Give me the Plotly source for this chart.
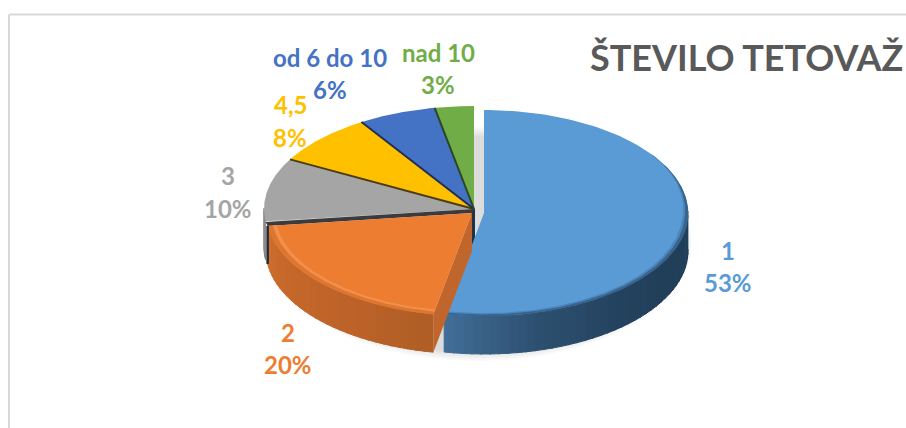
import numpy as np
import plotly.graph_objects as go

TITLE = "ŠTEVILO TETOVAŽ"
categories = ["1", "2", "3", "4,5", "od 6 do 10", "nad 10"]
values = [53, 20, 10, 8, 6, 3]

# Styling and layout (separate from data)
top_colors = ["#5B9BD5", "#ED7D31", "#A5A5A5", "#FFC000", "#4472C4", "#70AD47"]
text_colors = ["#5B9BD5", "#ED7D31", "#A5A5A5", "#FFC000", "#4472C4", "#70AD47"]
centers = [(484, 213), (472, 213), (474, 209), (474, 209), (474, 209), (474, 209)]
label_xy = [(728, 250, 282), (288, 332, 364), (228, 175, 208),
            (290, 104, 137), (330, 57, 89), (438, 52, 84)]
RX, RY, DEPTH = 204, 103, 38
ORANGE_RX = 206
BACK_RX, BACK_RY = 210, 103
W, H = 906, 428

fig = go.Figure()


def poly(xs, ys, color, lw=0.0):
    fig.add_trace(go.Scatter(x=xs, y=ys, mode="lines", fill="toself", fillcolor=color,
                             line=dict(width=lw, color=color), hoverinfo="skip", showlegend=False))


def edge(xs, ys, color, width):
    fig.add_trace(go.Scatter(x=xs, y=ys, mode="lines", line=dict(width=width, color=color),
                             hoverinfo="skip", showlegend=False))


def pt(c, t, rx, ry, r=1.0, dz=0.0):
    return c[0] + r * rx * np.sin(t), c[1] - r * ry * np.cos(t) + dz


def hex2rgb(h):
    return np.array([int(h[i:i + 2], 16) for i in (1, 3, 5)], float)


def mix(a, b, f):
    v = hex2rgb(a) * (1 - f) + hex2rgb(b) * f
    return "rgb(%d,%d,%d)" % tuple(v)


def top(c, a0, a1, rx, ry, color):
    t = np.linspace(a0, a1, 120)
    xs, ys = pt(c, t, rx, ry)
    poly([c[0], *xs, c[0]], [c[1], *ys, c[1]], color)


def wall(c, a0, a1, rx, ry, stops, n=40):
    lo, hi = max(a0, np.pi / 2 - 0.02), min(a1, 3 * np.pi / 2)
    if hi <= lo:
        return
    ed = np.linspace(lo, hi, n + 1)
    for i in range(n):
        t = np.linspace(ed[i], ed[i + 1] + 0.008, 5)
        x, y = pt(c, t, rx, ry)
        f = i / max(n - 1, 1) * (len(stops) - 1)
        j = min(int(f), len(stops) - 2)
        poly([*x, *x[::-1]], [*y, *(y[::-1] + DEPTH)], mix(stops[j], stops[j + 1], f - j), lw=1)


def rim(c, a0, a1, rx, ry, bands, taper=0.0):
    t = np.linspace(a0, a1, 160)
    k = np.clip((t - a0) / taper, 0, 1) if taper else np.ones_like(t)
    for r0, r1, col in bands:
        x0, y0 = pt(c, t, rx, ry, 1 - (1 - r0) * k)
        x1, y1 = pt(c, t, rx, ry, 1 - (1 - r1) * k)
        poly([*x0, *x1[::-1]], [*y0, *y1[::-1]], col)


# Cumulative angles, clockwise from 12 o'clock
fractions = np.array(values, float) / sum(values)
edges = np.concatenate([[0], np.cumsum(fractions)]) * 2 * np.pi
span = lambda i: (edges[i], edges[i + 1])

# Soft shadow
for k in range(7):
    tt = np.linspace(0, 2 * np.pi, 120)
    poly(478 + (214 - k * 1.5) * np.sin(tt), 244 - (117 - k * 1.5) * np.cos(tt), "rgba(60,60,60,0.028)")

# Back group: walls first, then tops and dark separators
a0, a1 = span(2)
wall(centers[2], a0, a1, BACK_RX, BACK_RY, ["#7b7b7b", "#8e8e8e"], n=6)
c = centers[5]
poly([c[0] - 3, c[0] + 1, c[0] + 1, c[0] - 3], [c[1], c[1], c[1] + 40, c[1] + 44], "#1f3346")
for i in range(2, 6):
    a0, a1 = span(i)
    top(centers[i], a0, a1, BACK_RX, BACK_RY, top_colors[i])
for i, col in zip([3, 4, 5], ["#4a3d12", "#1e2f55", "#2c4522"]):
    x, y = pt(centers[i], edges[i], BACK_RX, BACK_RY)
    edge([centers[i][0], x], [centers[i][1], y], col, 2)

# Dark cut face between the back group and pulled slice 2
gx, gy = pt(centers[2], edges[2], BACK_RX, BACK_RY)
ox, oy = pt(centers[1], edges[2], ORANGE_RX, RY)
poly([centers[2][0], gx, ox, centers[1][0]], [centers[2][1], gy, oy, centers[1][1]], "#3b3b3f")

# Pulled slice 1
c = centers[0]
a0, a1 = span(0)
wall(c, a0, a1, RX, RY, ["#22405A", "#213F58", "#244360", "#2D5070", "#416C96"])
top(c, a0, a1, RX, RY, top_colors[0])
rim(c, np.radians(55), a1, RX, RY, [(0.972, 0.984, "#4C86BA"), (0.984, 1.002, "#38648F")], taper=0.7)

# Pulled slice 2
c = centers[1]
a0, a1 = span(1)
xa, ya = pt(c, a0, ORANGE_RX, RY)
poly([c[0], xa, xa, c[0]], [c[1], ya, ya + DEPTH, c[1] + DEPTH], "#C0652B")
wall(c, a0, a1, ORANGE_RX, RY, ["#B05E26", "#BD6329", "#C46729", "#CC6D2C"], n=30)
top(c, a0, a1, ORANGE_RX, RY, top_colors[1])
rim(c, a0, a1, ORANGE_RX, RY, [(0.955, 0.975, "#F18F4D"), (0.975, 1.002, "#DE7630")])
xb, yb = pt(c, a1, ORANGE_RX, RY)
edge([xb, xb], [yb, yb + DEPTH], "#1f2a38", 2.5)

annotations = [dict(x=746, y=57, text=TITLE, showarrow=False, xref="x", yref="y",
                    font=dict(family="Lato", size=36, color="#595959", weight="bold"))]
for name, val, col, (lx, y1, y2) in zip(categories, values, text_colors, label_xy):
    for txt, yy in ((name, y1), (f"{val}%", y2)):
        annotations.append(dict(x=lx, y=yy, text=txt, showarrow=False, xref="x", yref="y",
                                font=dict(family="Lato", size=24, color=col, weight="bold")))

frame = dict(type="line", line=dict(color="#D9D9D9", width=2), xref="x", yref="y", layer="below")
fig.update_layout(
    width=W, height=H, margin=dict(l=0, r=0, t=0, b=0),
    paper_bgcolor="white", plot_bgcolor="white", showlegend=False,
    xaxis=dict(range=[0, W], visible=False, fixedrange=True),
    yaxis=dict(range=[H, 0], visible=False, fixedrange=True),
    annotations=annotations,
    shapes=[dict(frame, x0=9, x1=9, y0=14.5, y1=H), dict(frame, x0=9, x1=W, y0=14.5, y1=14.5)],
)
fig.write_html("out.html", config={"displayModeBar": False},
               post_script="document.body.style.margin='0';document.documentElement.style.overflow='hidden';")
